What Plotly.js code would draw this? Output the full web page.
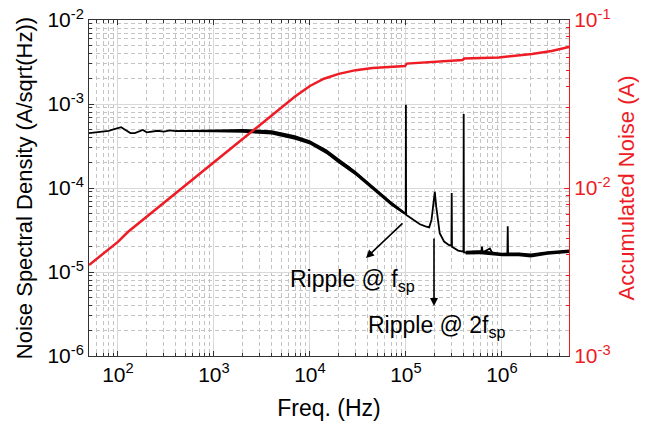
<!DOCTYPE html>
<html>
<head>
<meta charset="utf-8">
<script src="https://cdn.plot.ly/plotly-3.0.1.min.js"></script>
<style>html,body{margin:0;padding:0;background:#fff;}#chart{width:650px;height:430px;}</style>
</head>
<body>
<div id="chart"></div>
<script>
// Noise spectral density (A/sqrt(Hz)) vs frequency (Hz)
const psdFreq = [50, 60, 70, 80, 90, 100, 108, 120, 135, 150, 170, 182, 200, 230, 260, 300, 350, 400, 500, 700,
  1000, 1500, 2000, 3000, 4000, 5600, 7000, 10000, 13000, 19000, 25000, 30000, 41000, 60000, 80000, 97000,
  99500, 100000, 100500, 103000, 120000, 140000, 160000, 175000, 185000, 193000, 200000, 207000, 215000, 225000, 250000,
  280000, 298000, 300000, 302000, 350000, 390000, 398000, 400000, 402000, 410000, 500000, 610000, 620000, 630000,
  750000, 800000, 1000000, 1140000, 1150000, 1160000, 1200000, 1500000, 2000000, 2500000, 3000000, 4000000, 5000000];
const psdVal = [4.5e-4, 4.6e-4, 4.7e-4, 4.8e-4, 5.0e-4, 5.2e-4, 5.3e-4, 4.9e-4, 4.5e-4, 4.5e-4, 4.7e-4, 4.9e-4, 4.6e-4, 4.7e-4, 4.8e-4, 4.7e-4, 4.85e-4, 4.75e-4, 4.8e-4, 4.8e-4,
  4.8e-4, 4.8e-4, 4.8e-4, 4.75e-4, 4.6e-4, 4.3e-4, 4.0e-4, 3.5e-4, 3.0e-4, 2.15e-4, 1.8e-4, 1.5e-4, 1.12e-4, 7.7e-5, 5.8e-5, 5.0e-5,
  4.9e-5, 9.8e-4, 4.8e-5, 4.7e-5, 4.2e-5, 3.7e-5, 3.5e-5, 3.4e-5, 4.2e-5, 6.5e-5, 9.0e-5, 6.0e-5, 4.0e-5, 2.9e-5, 2.3e-5,
  2.1e-5, 2.05e-5, 8.7e-5, 2.0e-5, 1.8e-5, 1.75e-5, 1.75e-5, 7.6e-4, 1.72e-5, 1.7e-5, 1.75e-5, 1.75e-5, 2.0e-5, 1.7e-5,
  1.9e-5, 1.65e-5, 1.6e-5, 1.6e-5, 3.5e-5, 1.6e-5, 1.6e-5, 1.65e-5, 1.55e-5, 1.65e-5, 1.7e-5, 1.72e-5, 1.78e-5];

// Visible noise band around the PSD trace (upper / lower envelope)
const bandFreq = [400, 1000, 2000, 4000, 7000, 10000, 15000, 20000, 30000, 45000, 70000, 97000];
const bandHi = [4.88e-4, 5.0e-4, 5.05e-4, 4.87e-4, 4.25e-4, 3.7e-4, 2.88e-4, 2.25e-4, 1.59e-4, 1.07e-4, 6.95e-5, 5.2e-5];
const bandLo = [4.68e-4, 4.6e-4, 4.55e-4, 4.33e-4, 3.76e-4, 3.3e-4, 2.53e-4, 1.96e-4, 1.41e-4, 9.5e-5, 6.2e-5, 4.8e-5];
const floorFreq = [420000, 600000, 1000000, 1500000, 2000000, 3000000, 5000000];
const floorHi = [1.79e-5, 1.81e-5, 1.7e-5, 1.71e-5, 1.66e-5, 1.77e-5, 1.85e-5];
const floorLo = [1.62e-5, 1.63e-5, 1.54e-5, 1.54e-5, 1.49e-5, 1.6e-5, 1.68e-5];

// Accumulated noise (A) vs frequency (Hz)
const accFreq = [50, 100, 127, 200, 500, 1000, 2000, 5000, 7000, 10000, 14000, 20000, 30000, 45000, 70000, 98000,
  102000, 195000, 350000, 390000, 405000, 930000, 2050000, 3300000, 5000000];
const accVal = [3.48e-3, 4.78e-3, 5.47e-3, 6.75e-3, 1.03e-2, 1.42e-2, 1.96e-2, 2.97e-2, 3.5e-2, 4.05e-2, 4.47e-2, 4.78e-2, 5.03e-2, 5.18e-2, 5.28e-2, 5.32e-2,
  5.5e-2, 5.65e-2, 5.76e-2, 5.78e-2, 5.9e-2, 5.98e-2, 6.28e-2, 6.53e-2, 6.9e-2];

const xTickVals = [1e2, 1e3, 1e4, 1e5, 1e6];
const xTickText = ['10<sup>2</sup>', '10<sup>3</sup>', '10<sup>4</sup>', '10<sup>5</sup>', '10<sup>6</sup>'];
const yTickVals = [1e-6, 1e-5, 1e-4, 1e-3, 1e-2];
const yTickText = ['10<sup>-6</sup>', '10<sup>-5</sup>', '10<sup>-4</sup>', '10<sup>-3</sup>', '10<sup>-2</sup>'];
const y2TickVals = [1e-3, 1e-2, 1e-1];
const y2TickText = ['10<sup>-3</sup>', '10<sup>-2</sup>', '10<sup>-1</sup>'];

const RED = '#ee1c25';
const FONT = 'Liberation Sans, Arial, sans-serif';

const traces = [
  {x: bandFreq.concat(bandFreq.slice().reverse()), y: bandHi.concat(bandLo.slice().reverse()),
   type: 'scatter', mode: 'lines', fill: 'toself', fillcolor: '#000', line: {width: 0, color: '#000'}, hoverinfo: 'skip', showlegend: false},
  {x: floorFreq.concat(floorFreq.slice().reverse()), y: floorHi.concat(floorLo.slice().reverse()),
   type: 'scatter', mode: 'lines', fill: 'toself', fillcolor: '#000', line: {width: 0, color: '#000'}, hoverinfo: 'skip', showlegend: false},
  {x: psdFreq, y: psdVal, type: 'scatter', mode: 'lines', line: {color: '#000', width: 1.8}, showlegend: false},
  {x: accFreq, y: accVal, type: 'scatter', mode: 'lines', yaxis: 'y2', line: {color: RED, width: 2.5}, showlegend: false}
];

const minorGrid = {ticks: 'inside', ticklen: 3, tickcolor: '#333', showgrid: true, gridcolor: '#c4c4c4', griddash: '4px,3px', gridwidth: 1, dtick: 'D1'};

const layout = {
  width: 650, height: 430,
  margin: {l: 89, r: 81, t: 20, b: 74},
  paper_bgcolor: '#fff', plot_bgcolor: '#fff',
  font: {family: FONT, size: 21, color: '#000'},
  showlegend: false,
  xaxis: {
    type: 'log', range: [Math.log10(50), Math.log10(5e6)],
    tickmode: 'array', tickvals: xTickVals, ticktext: xTickText,
    ticks: 'inside', ticklen: 5, tickcolor: '#333',
    showline: true, linecolor: '#333', linewidth: 1, mirror: 'ticks',
    showgrid: true, gridcolor: '#d8d8d8', gridwidth: 1, zeroline: false,
    minor: minorGrid,
    tickfont: {size: 21},
    title: {text: 'Freq. (Hz)', font: {size: 23}, standoff: 14}
  },
  yaxis: {
    type: 'log', range: [-6, -2],
    tickmode: 'array', tickvals: yTickVals, ticktext: yTickText,
    ticks: 'inside', ticklen: 5, tickcolor: '#333',
    showline: true, linecolor: '#333', linewidth: 1,
    showgrid: true, gridcolor: '#d8d8d8', gridwidth: 1, zeroline: false,
    minor: minorGrid,
    tickfont: {size: 21},
    title: {text: 'Noise Spectral Density (A/sqrt(Hz))', font: {size: 22}, standoff: 8}
  },
  yaxis2: {
    type: 'log', range: [-3, -1], overlaying: 'y', side: 'right',
    tickmode: 'array', tickvals: y2TickVals, ticktext: y2TickText,
    ticks: 'inside', ticklen: 5, tickcolor: RED,
    showline: true, linecolor: RED, linewidth: 1,
    showgrid: false, zeroline: false,
    minor: {ticks: 'inside', ticklen: 3, tickcolor: RED, showgrid: false, dtick: 'D1'},
    tickfont: {size: 21, color: RED},
    title: {text: 'Accumulated Noise (A)', font: {size: 22, color: RED}, standoff: 8}
  },
  annotations: [
    {xref: 'paper', yref: 'paper', x: (366 - 89) / 480, y: (356 - 258) / 336, ax: 38, ay: -36,
     showarrow: true, arrowhead: 2, arrowsize: 1, arrowwidth: 1.6, arrowcolor: '#000', text: ''},
    {xref: 'paper', yref: 'paper', x: (434 - 89) / 480, y: (356 - 306) / 336, ax: 0, ay: -69,
     showarrow: true, arrowhead: 2, arrowsize: 1, arrowwidth: 1.6, arrowcolor: '#000', text: ''},
    {xref: 'paper', yref: 'paper', x: (288 - 89) / 480, y: (356 - 280) / 336, xanchor: 'left', yanchor: 'middle',
     showarrow: false, text: 'Ripple @ f<sub>sp</sub>', font: {size: 23, color: '#000'}},
    {xref: 'paper', yref: 'paper', x: (366 - 89) / 480, y: (356 - 326) / 336, xanchor: 'left', yanchor: 'middle',
     showarrow: false, text: 'Ripple @ 2f<sub>sp</sub>', font: {size: 23, color: '#000'}}
  ]
};

Plotly.newPlot('chart', traces, layout, {displayModeBar: false, staticPlot: true});
</script>
</body>
</html>
